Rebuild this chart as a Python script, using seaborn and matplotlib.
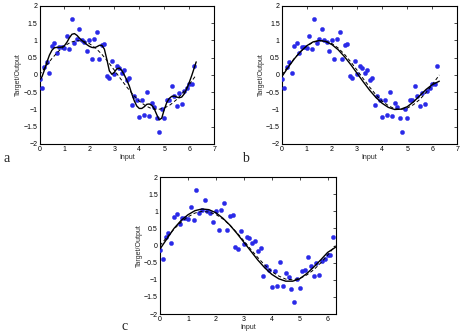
import numpy as np
import pandas as pd
import seaborn as sns
import matplotlib.pyplot as plt

# noisy training samples (same in all three panels)
x_pts = [round(0.1 * i, 1) for i in range(63)]
y_pts = [-0.13, -0.38, 0.24, 0.38, 0.07, 0.85, 0.92, 0.64, 0.81, 0.82,
         0.79, 1.12, 0.76, 1.62, 0.94, 1.04, 1.33, 1.01, 0.95, 0.70,
         1.00, 0.46, 1.03, 1.24, 0.47, 0.87, 0.90, -0.04, -0.10, 0.42,
         0.04, 0.26, 0.21, 0.07, 0.14, -0.15, -0.08, -0.88, -0.61, -0.72,
         -1.22, -0.73, -1.17, -0.48, -1.18, -0.81, -0.92, -1.26, -1.64, -0.99,
         -1.25, -0.73, -0.72, -0.32, -0.60, -0.89, -0.51, -0.85, -0.46, -0.38,
         -0.27, -0.27, 0.25]

# curves
x_curve = [0, 0.25, 0.5, 0.75, 1.0, 1.25, 1.5, 1.75, 2.0, 2.25, 2.5, 2.75, 3.0,
           3.25, 3.5, 3.75, 4.0, 4.25, 4.5, 4.75, 5.0, 5.25, 5.5, 5.75, 6.0, 6.28]
y_true = [0, 0.25, 0.48, 0.68, 0.84, 0.95, 1.0, 0.98, 0.91, 0.78, 0.60, 0.38, 0.14,
          -0.11, -0.35, -0.57, -0.76, -0.89, -0.98, -1.0, -0.96, -0.86, -0.71,
          -0.51, -0.28, 0.0]
y_fit_b = [-0.05, 0.22, 0.47, 0.68, 0.85, 0.96, 1.0, 0.97, 0.88, 0.73, 0.53, 0.30,
           0.05, -0.20, -0.44, -0.65, -0.82, -0.94, -1.0, -0.99, -0.92, -0.78,
           -0.60, -0.42, -0.28, -0.18]
y_fit_c = [-0.10, 0.20, 0.50, 0.73, 0.90, 1.02, 1.07, 1.05, 0.96, 0.80, 0.60, 0.36,
           0.10, -0.16, -0.42, -0.65, -0.84, -0.97, -1.04, -1.04, -0.97, -0.82,
           -0.63, -0.42, -0.20, -0.05]

# wiggly over-fitted curve of panel a
x_fit_a = [0, 0.1, 0.2, 0.3, 0.4, 0.5, 0.6, 0.7, 0.8, 0.9, 1.0, 1.1, 1.2, 1.3, 1.4,
           1.5, 1.6, 1.7, 1.8, 1.9, 2.0, 2.1, 2.2, 2.3, 2.4, 2.5, 2.6, 2.7, 2.8,
           2.9, 3.0, 3.1, 3.2, 3.3, 3.4, 3.5, 3.6, 3.7, 3.8, 3.9, 4.0, 4.1, 4.2,
           4.3, 4.4, 4.5, 4.6, 4.7, 4.8, 4.9, 5.0, 5.1, 5.2, 5.3, 5.4, 5.5, 5.6,
           5.7, 5.8, 5.9, 6.0, 6.1, 6.2, 6.28]
y_fit_a = [-0.15, -0.05, 0.15, 0.38, 0.58, 0.72, 0.79, 0.80, 0.80, 0.81, 0.85, 0.95,
           1.08, 1.18, 1.20, 1.15, 1.07, 1.00, 0.94, 0.88, 0.83, 0.80, 0.79, 0.82,
           0.86, 0.86, 0.75, 0.45, 0.12, 0.02, 0.08, 0.18, 0.20, 0.13, 0.00, -0.15,
           -0.32, -0.55, -0.75, -0.90, -0.97, -0.97, -0.92, -0.85, -0.84, -0.88,
           -0.98, -1.15, -1.30, -1.25, -1.00, -0.80, -0.68, -0.62, -0.61, -0.64,
           -0.66, -0.64, -0.55, -0.40, -0.22, -0.02, 0.20, 0.38]

sns.set_style("white")
plt.rcParams['font.family'] = ['Liberation Sans', 'DejaVu Sans']

fig = plt.figure(figsize=(4.62, 3.33), dpi=100)

pts = pd.DataFrame({'x': x_pts, 'y': y_pts})
true_df = pd.DataFrame({'x': x_curve, 'y': y_true})

panels = [
    ('a', [0.0855, 0.5676, 0.378, 0.4144], 7, x_fit_a, y_fit_a, (0.008, 0.505)),
    ('b', [0.610, 0.5676, 0.380, 0.4144], 7, x_curve, y_fit_b, (0.523, 0.505)),
    ('c', [0.3463, 0.057, 0.381, 0.411], 6.3, x_curve, y_fit_c, (0.262, 0.0)),
]

for letter, rect, xmax, fx, fy, lpos in panels:
    ax = fig.add_axes(rect)
    sns.scatterplot(data=pts, x='x', y='y', ax=ax, color='#2a2ae8', s=10,
                    edgecolor='#2a2ae8', linewidth=0.2, zorder=3)
    sns.lineplot(x=fx, y=fy, ax=ax, color='black', linewidth=1.0, zorder=4,
                 sort=False)
    sns.lineplot(data=true_df, x='x', y='y', ax=ax, color='black', linewidth=0.7,
                 linestyle=(0, (3.5, 2.5)), zorder=4)
    ax.set_xlim(0, xmax)
    ax.set_ylim(-2, 2)
    ax.set_xticks(range(0, int(xmax) + 1))
    ax.set_yticks([-2, -1.5, -1, -0.5, 0, 0.5, 1, 1.5, 2])
    ax.set_yticklabels(['\u22122', '\u22121.5', '\u22121', '\u22120.5', '0',
                        '0.5', '1', '1.5', '2'])
    ax.tick_params(direction='in', length=2.5, width=0.5, labelsize=5,
                   top=True, right=True, pad=1.5, colors='black')
    ax.set_xlabel('Input', fontsize=5, labelpad=1)
    ax.set_ylabel('Target/Output', fontsize=5, labelpad=1)
    for sp in ax.spines.values():
        sp.set_color('black')
        sp.set_linewidth(0.8)
    fig.text(lpos[0], lpos[1], letter, fontsize=10, family='Liberation Serif',
             ha='left', va='bottom')

fig.savefig('out.png', dpi=100)
